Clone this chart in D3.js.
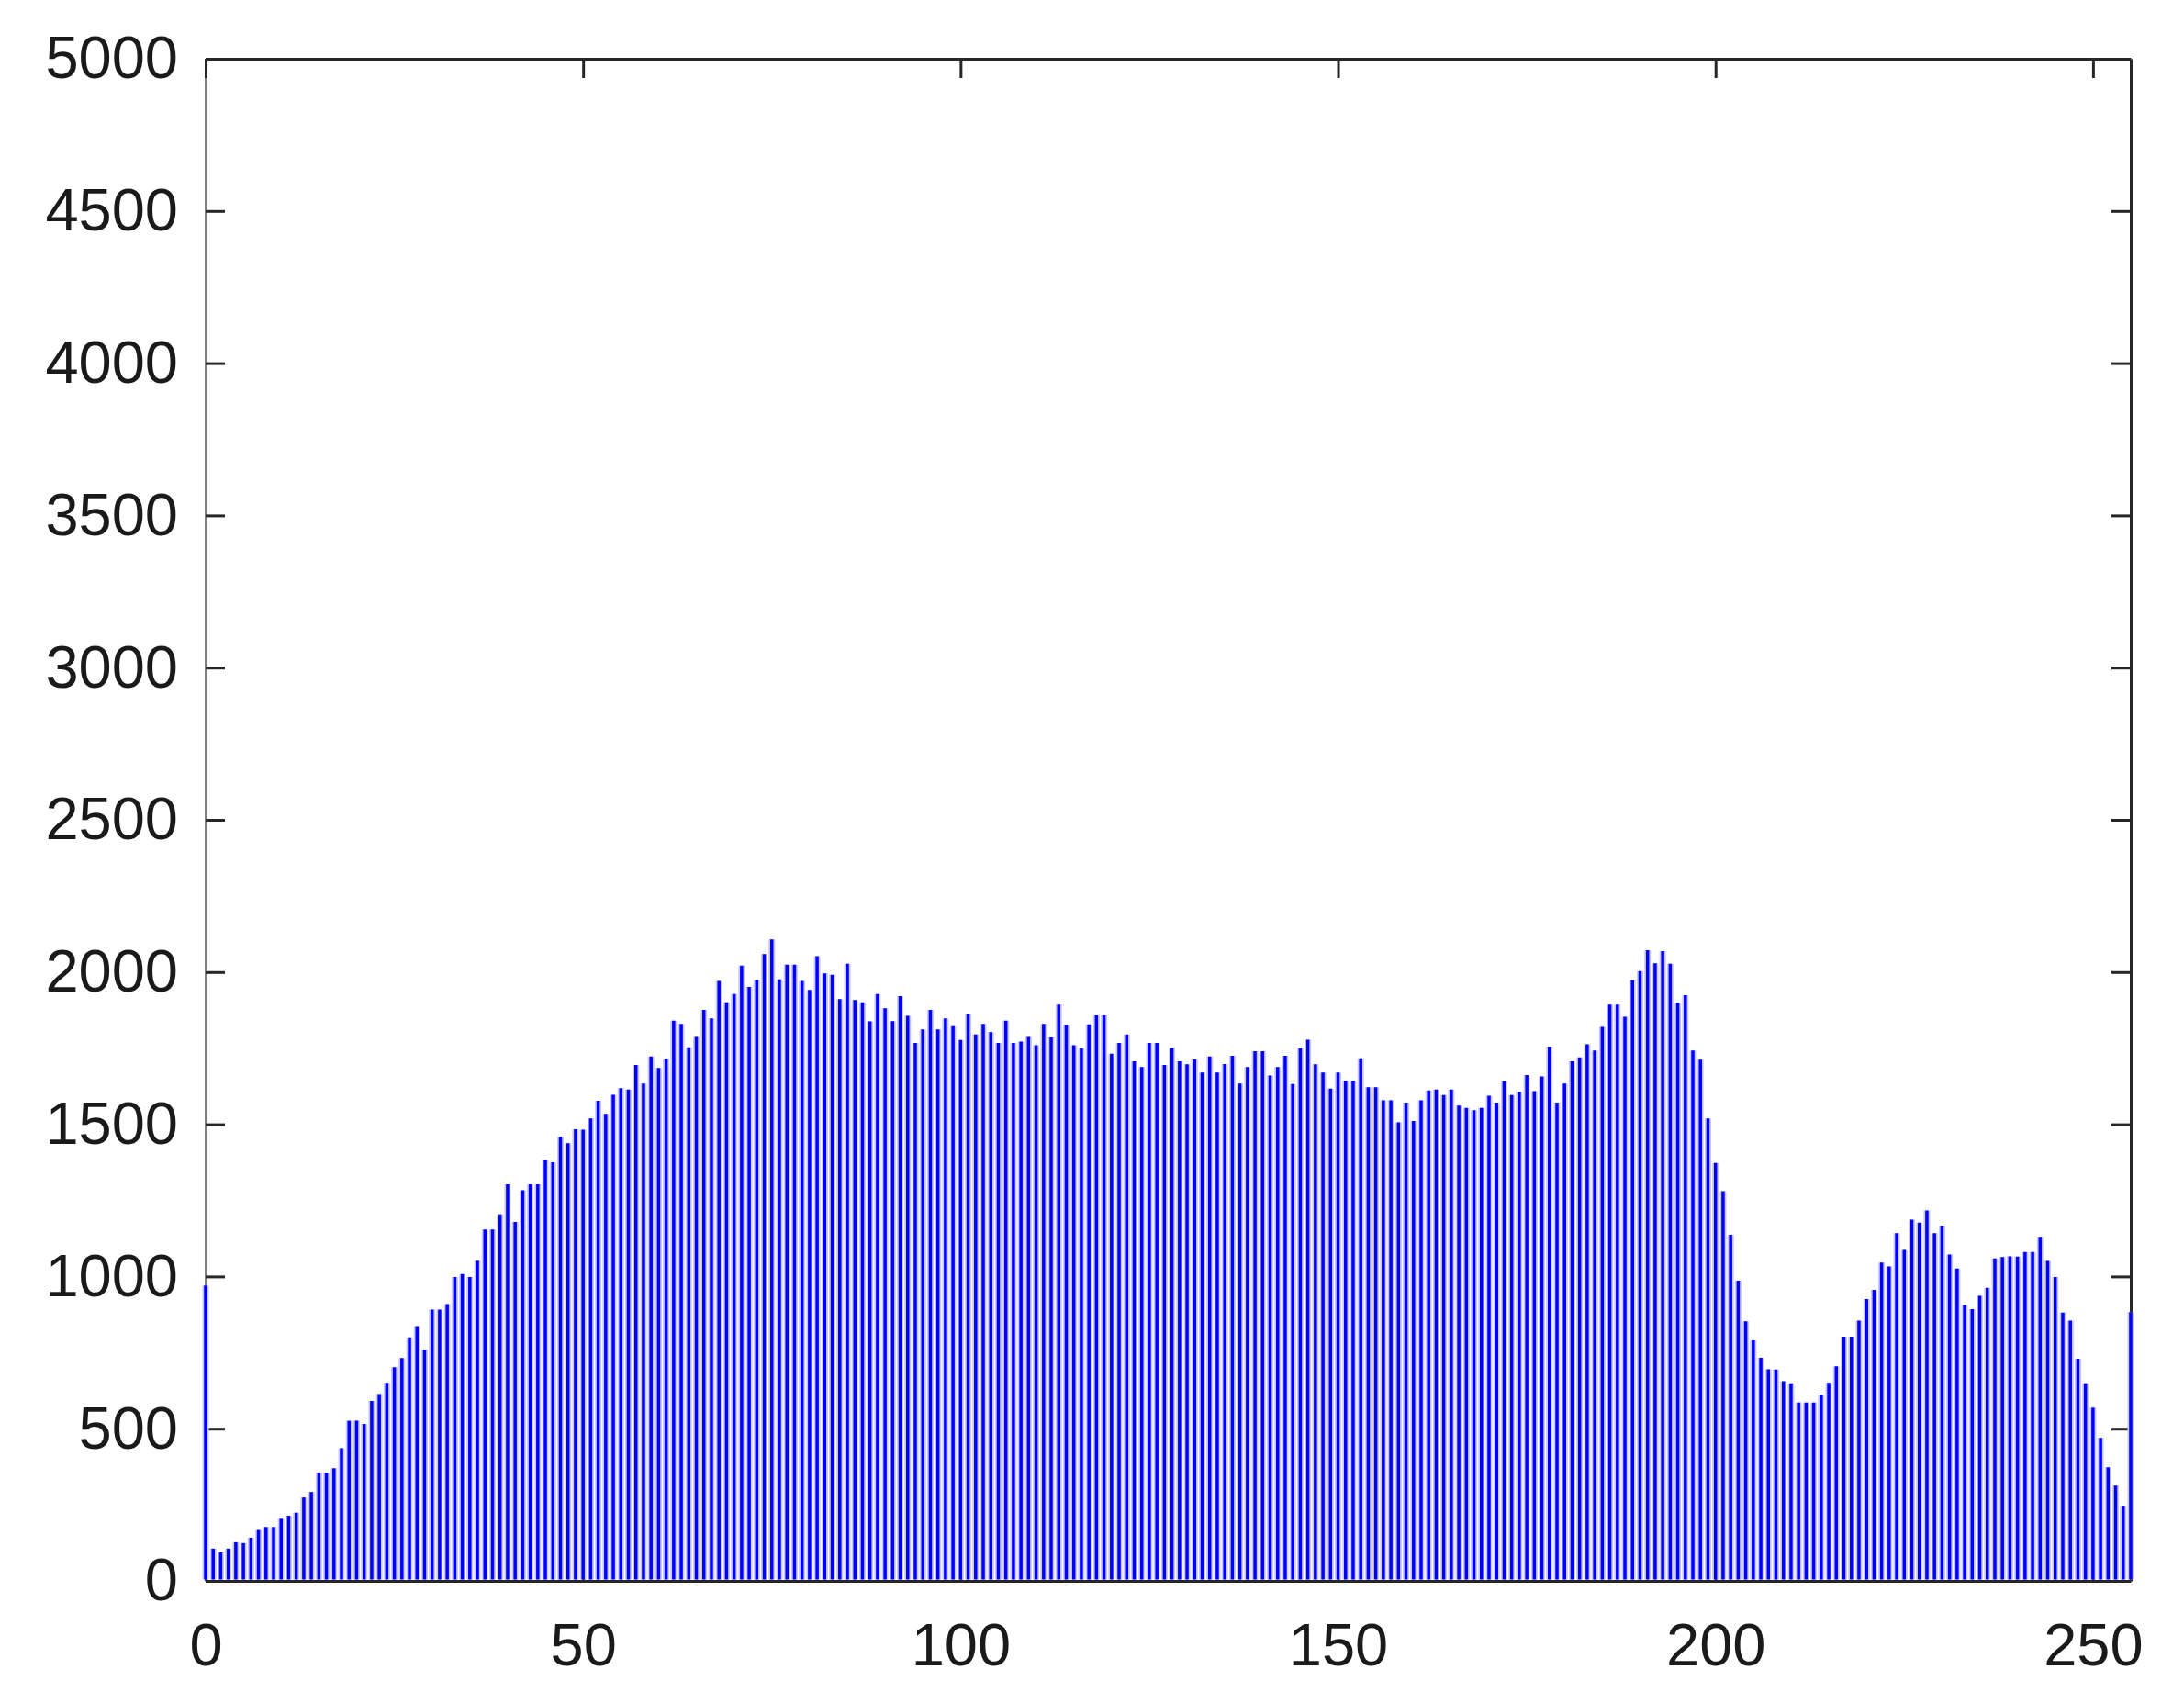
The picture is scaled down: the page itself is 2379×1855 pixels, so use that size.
<!DOCTYPE html>
<html>
<head>
<meta charset="utf-8">
<script src="https://cdn.jsdelivr.net/npm/d3@7"></script>
<style>
  html, body { margin: 0; padding: 0; background: #fff; }
  svg { display: block; }
  .axis text { font-family: 'Liberation Sans', Arial, Helvetica, sans-serif; font-size: 65px; fill: #1a1a1a; }
</style>
</head>
<body>
<svg id="chart"></svg>
<script>
// pixel counts per grey level (0..255)
const counts = [
  970, 106, 94, 106, 127, 124, 142, 167, 177, 177,
  204, 214, 224, 274, 292, 356, 356, 370, 436, 526,
  526, 516, 591, 614, 651, 702, 732, 800, 837, 760,
  891, 891, 909, 998, 1008, 998, 1052, 1154, 1154, 1204,
  1303, 1179, 1283, 1303, 1303, 1383, 1375, 1459, 1438, 1484,
  1482, 1519, 1577, 1534, 1597, 1619, 1614, 1695, 1634, 1723,
  1685, 1715, 1840, 1830, 1753, 1787, 1876, 1848, 1971, 1901,
  1928, 2021, 1951, 1974, 2059, 2107, 1976, 2024, 2024, 1971,
  1941, 2052, 1996, 1991, 1911, 2027, 1908, 1901, 1838, 1928,
  1881, 1839, 1921, 1856, 1767, 1812, 1876, 1812, 1848, 1822,
  1777, 1864, 1795, 1830, 1803, 1767, 1840, 1767, 1772, 1787,
  1760, 1830, 1785, 1893, 1827, 1760, 1750, 1828, 1858, 1858,
  1732, 1767, 1795, 1707, 1688, 1767, 1767, 1695, 1752, 1707,
  1697, 1713, 1670, 1723, 1670, 1698, 1725, 1634, 1688, 1740,
  1740, 1660, 1688, 1725, 1632, 1750, 1778, 1697, 1670, 1617,
  1670, 1643, 1643, 1717, 1622, 1622, 1579, 1579, 1506, 1571,
  1511, 1579, 1611, 1614, 1596, 1614, 1561, 1554, 1546, 1554,
  1594, 1571, 1641, 1596, 1606, 1662, 1609, 1657, 1755, 1571,
  1634, 1707, 1720, 1763, 1742, 1820, 1893, 1893, 1853, 1973,
  2003, 2072, 2029, 2069, 2027, 1899, 1924, 1742, 1712, 1519,
  1373, 1280, 1137, 986, 853, 790, 733, 695, 694, 656,
  649, 586, 586, 586, 611, 651, 705, 802, 802, 855,
  926, 956, 1046, 1033, 1142, 1087, 1187, 1177, 1217, 1142,
  1167, 1072, 1026, 906, 893, 936, 963, 1059, 1064, 1066,
  1065, 1080, 1080, 1130, 1051, 998, 881, 855, 730, 649,
  569, 470, 373, 313, 247, 883
]
const levels = d3.range(counts.length)

const xTicks = [0, 50, 100, 150, 200, 250]
const yTicks = [0, 500, 1000, 1500, 2000, 2500, 3000, 3500, 4000, 4500, 5000]

// plot box, MATLAB style
const margin = { top: 64, left: 224, right: 58, bottom: 133 }
const fullWidth = 2379
const fullHeight = 1855
const width = fullWidth - margin.left - margin.right
const height = fullHeight - margin.top - margin.bottom

const svg = d3.select('#chart')
  .attr('width', fullWidth)
  .attr('height', fullHeight)

svg.append('rect')
  .attr('width', fullWidth)
  .attr('height', fullHeight)
  .attr('fill', '#fff')

const g = svg.append('g')
  .attr('transform', 'translate(' + margin.left + ',' + margin.top + ')')

const xPositionScale = d3.scaleLinear().domain([0, 255]).range([0, width])
const yPositionScale = d3.scaleLinear().domain([0, 5000]).range([height, 0])

const tickLen = 21

// left + bottom with labels, ticks pointing inward
g.append('g')
  .attr('class', 'axis y-axis')
  .call(d3.axisLeft(yPositionScale)
    .tickValues(yTicks)
    .tickFormat(d3.format('d'))
    .tickSizeInner(-tickLen)
    .tickSizeOuter(0)
    .tickPadding(30))

g.append('g')
  .attr('class', 'axis x-axis')
  .attr('transform', 'translate(0,' + height + ')')
  .call(d3.axisBottom(xPositionScale)
    .tickValues(xTicks)
    .tickFormat(d3.format('d'))
    .tickSizeInner(-tickLen)
    .tickSizeOuter(0)
    .tickPadding(46))

// top + right, ticks only
g.append('g')
  .attr('class', 'axis top-axis')
  .call(d3.axisTop(xPositionScale)
    .tickValues(xTicks)
    .tickSizeInner(-tickLen)
    .tickSizeOuter(0)
    .tickFormat(''))

g.append('g')
  .attr('class', 'axis right-axis')
  .attr('transform', 'translate(' + width + ',0)')
  .call(d3.axisRight(yPositionScale)
    .tickValues(yTicks)
    .tickSizeInner(-tickLen)
    .tickSizeOuter(0)
    .tickFormat(''))

g.selectAll('.axis path')
  .attr('stroke', '#262626')
  .attr('stroke-width', 3)
g.selectAll('.axis line')
  .attr('stroke', '#262626')
  .attr('stroke-width', 3)
g.selectAll('.y-axis path').attr('stroke', '#808080')
g.selectAll('.axis text')
  .attr('fill', '#1a1a1a')
  .attr('font-size', 65)

// stems: soft halo then the solid line
const stems = g.append('g').attr('class', 'stems')

stems.selectAll('line.halo')
  .data(levels)
  .enter()
  .append('line')
  .attr('class', 'halo')
  .attr('x1', d => xPositionScale(d))
  .attr('x2', d => xPositionScale(d))
  .attr('y1', height - 1.5)
  .attr('y2', d => yPositionScale(counts[d]))
  .attr('stroke', '#c8c8ff')
  .attr('stroke-width', 7)

stems.selectAll('line.stem')
  .data(levels)
  .enter()
  .append('line')
  .attr('class', 'stem')
  .attr('x1', d => xPositionScale(d))
  .attr('x2', d => xPositionScale(d))
  .attr('y1', height - 1.5)
  .attr('y2', d => yPositionScale(counts[d]))
  .attr('stroke', '#0000ff')
  .attr('stroke-width', 3.5)
</script>
</body>
</html>
